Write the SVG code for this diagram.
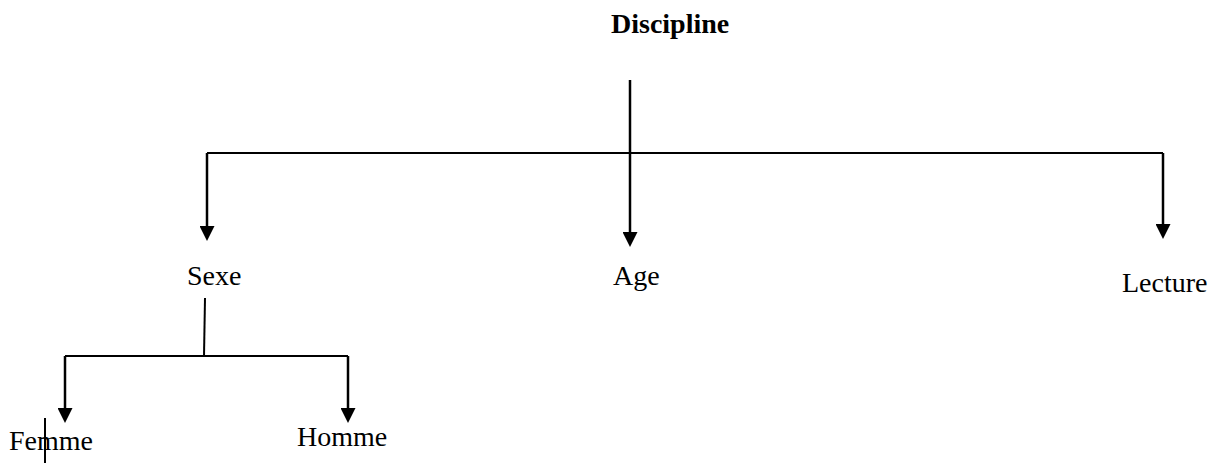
<svg xmlns="http://www.w3.org/2000/svg" width="1216" height="473" viewBox="0 0 1216 473">
<style>
.t{font-family:"Liberation Serif","Times New Roman",serif;font-size:28px;fill:#000}
.b{font-weight:bold}
.l{stroke:#000;stroke-width:2;fill:none}
.a{stroke:#000;stroke-width:2.5;fill:none;marker-end:url(#ah)}
</style>
<defs>
<marker id="ah" markerWidth="6" markerHeight="6" refX="0" refY="3" orient="auto" markerUnits="strokeWidth" viewBox="0 0 6 6">
<path d="M0,0 L6,3 L0,6 z" fill="#000"/>
</marker>
</defs>
<rect width="1216" height="473" fill="#fff"/>
<g id="connectors">
<line class="a" x1="630" y1="80" x2="630" y2="232"/>
<line class="l" x1="207" y1="153" x2="1163" y2="153"/>
<line class="a" x1="207" y1="153" x2="207" y2="226"/>
<line class="a" x1="1163" y1="153" x2="1163" y2="224"/>
<line class="l" x1="205" y1="298" x2="204" y2="356"/>
<line class="l" x1="65" y1="356" x2="348" y2="356"/>
<line class="a" x1="65" y1="356" x2="65" y2="408"/>
<line class="a" x1="348" y1="356" x2="348" y2="408"/>
<line class="l" x1="45" y1="418" x2="45" y2="463"/>
</g>
<g id="discipline"><text class="t b" x="611" y="33">Discipline</text></g>
<g id="sexe"><text class="t" x="187" y="285">Sexe</text></g>
<g id="age"><text class="t" x="613" y="285">Age</text></g>
<g id="lecture"><text class="t" x="1122" y="292">Lecture</text></g>
<g id="femme"><text class="t" x="9" y="450">Femme</text></g>
<g id="homme"><text class="t" x="297" y="446">Homme</text></g>
</svg>
